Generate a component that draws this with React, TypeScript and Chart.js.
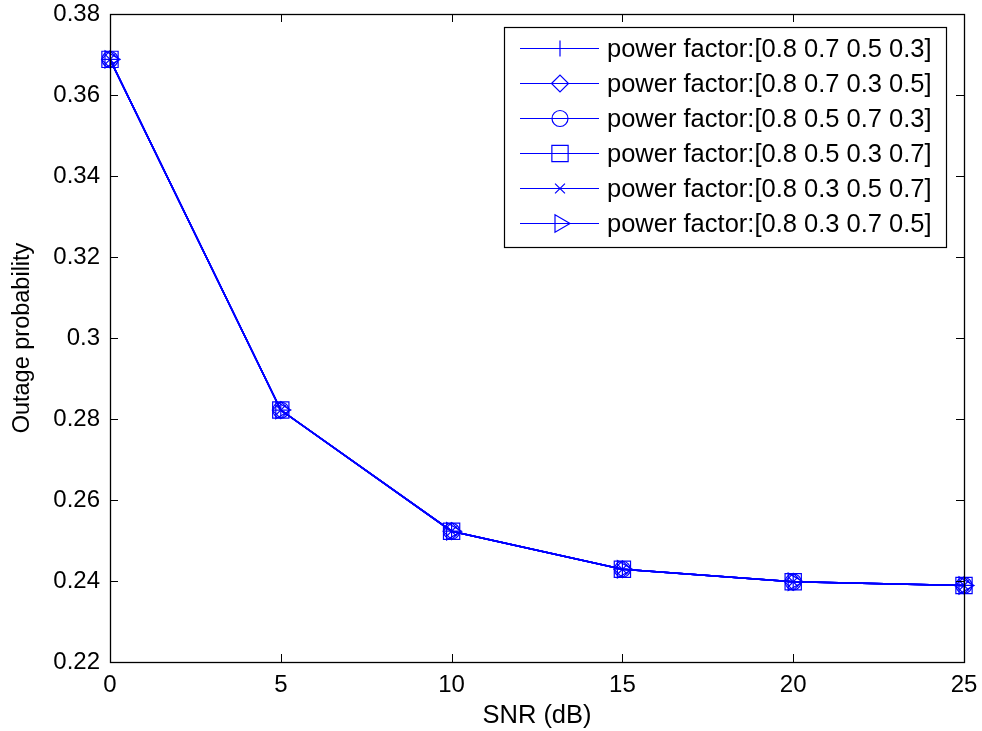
import React, { useEffect, useRef } from "react";
import { Chart, registerables } from "chart.js";
import { drawPoint } from "chart.js/helpers";

Chart.register(...registerables);

const snr = [0, 5, 10, 15, 20, 25];
const pf8753 = [0.3688, 0.2822, 0.2523, 0.2429, 0.2398, 0.2389];
const pf8735 = [0.3688, 0.2822, 0.2523, 0.2429, 0.2398, 0.2389];
const pf8573 = [0.3688, 0.2822, 0.2523, 0.2429, 0.2398, 0.2389];
const pf8537 = [0.3688, 0.2822, 0.2523, 0.2429, 0.2398, 0.2389];
const pf8357 = [0.3688, 0.2822, 0.2523, 0.2429, 0.2398, 0.2389];
const pf8375 = [0.3688, 0.2822, 0.2523, 0.2429, 0.2398, 0.2389];

const seriesLabels = [
  "power factor:[0.8 0.7 0.5 0.3]",
  "power factor:[0.8 0.7 0.3 0.5]",
  "power factor:[0.8 0.5 0.7 0.3]",
  "power factor:[0.8 0.5 0.3 0.7]",
  "power factor:[0.8 0.3 0.5 0.7]",
  "power factor:[0.8 0.3 0.7 0.5]",
];
const seriesValues = [pf8753, pf8735, pf8573, pf8537, pf8357, pf8375];
const markerStyles = ["cross", "rectRot", "circle", "rect", "crossRot", "triangle"];
const markerRadius = [8, 8.5, 8, 11.5, 7, 10];
const markerRotation = [0, 0, 0, 0, 0, 90];

const FONT = "'Liberation Sans', Arial, Helvetica, sans-serif";
const BLUE = "#0000ff";

const boxPlugin = {
  id: "matlabBox",
  afterDatasetsDraw(chart: any) {
    const { ctx, chartArea } = chart;
    const { left, right, top, bottom } = chartArea;
    const xs = chart.scales.x;
    const ys = chart.scales.y;
    const tl = 8;
    ctx.save();
    ctx.strokeStyle = "#000";
    ctx.lineWidth = 1;
    ctx.beginPath();
    xs.ticks.forEach((t: any) => {
      const px = Math.round(xs.getPixelForValue(t.value)) + 0.5;
      ctx.moveTo(px, bottom);
      ctx.lineTo(px, bottom - tl);
      ctx.moveTo(px, top);
      ctx.lineTo(px, top + tl);
    });
    ys.ticks.forEach((t: any) => {
      const py = Math.round(ys.getPixelForValue(t.value)) + 0.5;
      ctx.moveTo(left, py);
      ctx.lineTo(left + tl, py);
      ctx.moveTo(right, py);
      ctx.lineTo(right - tl, py);
    });
    ctx.stroke();
    ctx.lineWidth = 1.3;
    ctx.strokeRect(Math.round(left) + 0.5, Math.round(top) + 0.5, Math.round(right - left), Math.round(bottom - top));
    ctx.restore();
  },
};

const legendPlugin = {
  id: "matlabLegend",
  afterDraw(chart: any) {
    const { ctx } = chart;
    const bx = 504, by = 27, bw = 442, bh = 220;
    ctx.save();
    ctx.fillStyle = "#fff";
    ctx.fillRect(bx, by, bw, bh);
    ctx.strokeStyle = "#000";
    ctx.lineWidth = 1.2;
    ctx.strokeRect(bx + 0.5, by + 0.5, bw, bh);
    chart.data.datasets.forEach((ds: any, i: number) => {
      const y = 48.5 + i * 35;
      ctx.strokeStyle = BLUE;
      ctx.lineWidth = 1.2;
      ctx.beginPath();
      ctx.moveTo(520, y);
      ctx.lineTo(599, y);
      ctx.stroke();
      ctx.save();
      ctx.fillStyle = "rgba(0,0,255,0)";
      ctx.strokeStyle = BLUE;
      ctx.lineWidth = 1.2;
      drawPoint(ctx, {
        pointStyle: ds.pointStyle,
        radius: ds.pointRadius,
        rotation: ds.pointRotation,
        borderWidth: 1.2,
      } as any, 560, y);
      ctx.restore();
      ctx.fillStyle = "#000";
      ctx.font = `25.5px ${FONT}`;
      ctx.textBaseline = "middle";
      ctx.textAlign = "left";
      ctx.fillText(ds.label, 607, y + 1);
    });
    ctx.restore();
  },
};

export default function App() {
  const ref = useRef<HTMLCanvasElement | null>(null);
  useEffect(() => {
    if (!ref.current) return;
    const chart = new Chart(ref.current, {
      type: "line",
      data: {
        datasets: seriesValues.map((vals, i) => ({
          label: seriesLabels[i],
          data: snr.map((x, j) => ({ x, y: vals[j] })),
          borderColor: BLUE,
          borderWidth: 1.5,
          backgroundColor: "rgba(0,0,0,0)",
          pointStyle: markerStyles[i] as any,
          pointRadius: markerRadius[i],
          pointRotation: markerRotation[i],
          pointBorderColor: BLUE,
          pointBackgroundColor: "rgba(0,0,255,0)",
          pointBorderWidth: 1.2,
          fill: false,
          tension: 0,
          clip: false as any,
        })),
      },
      options: {
        animation: false,
        responsive: false,
        layout: { padding: { top: 14, right: 18, left: 0, bottom: 0 } },
        plugins: {
          legend: { display: false },
          tooltip: { enabled: false },
        },
        scales: {
          x: {
            type: "linear",
            min: 0,
            max: 25,
            ticks: {
              stepSize: 5,
              color: "#000",
              padding: 9,
              font: { family: FONT, size: 24 },
            },
            grid: { drawOnChartArea: false, drawTicks: false },
            border: { display: false },
            title: {
              display: true,
              text: "SNR (dB)",
              color: "#000",
              font: { family: FONT, size: 25.5 },
              padding: { top: 0, bottom: 0 },
            },
            afterFit: (s: any) => {
              s.height = 69;
              s.paddingLeft = 0;
              s.paddingRight = 0;
            },
          },
          y: {
            type: "linear",
            min: 0.22,
            max: 0.38,
            ticks: {
              stepSize: 0.02,
              color: "#000",
              padding: 10,
              font: { family: FONT, size: 24 },
              callback: (v: any) => String(Number(Number(v).toFixed(2))),
            },
            grid: { drawOnChartArea: false, drawTicks: false },
            border: { display: false },
            title: {
              display: true,
              text: "Outage probability",
              color: "#000",
              font: { family: FONT, size: 23.5 },
              padding: { top: 8, bottom: 0 },
            },
            afterFit: (s: any) => {
              s.width = 110;
              s.paddingTop = 0;
              s.paddingBottom = 0;
            },
          },
        },
      },
      plugins: [boxPlugin, legendPlugin],
    });
    return () => chart.destroy();
  }, []);
  return (
    <div style={{ position: "absolute", left: 0, top: 0, width: 982, height: 731, background: "#fff" }}>
      <canvas ref={ref} width={982} height={731} />
    </div>
  );
}
